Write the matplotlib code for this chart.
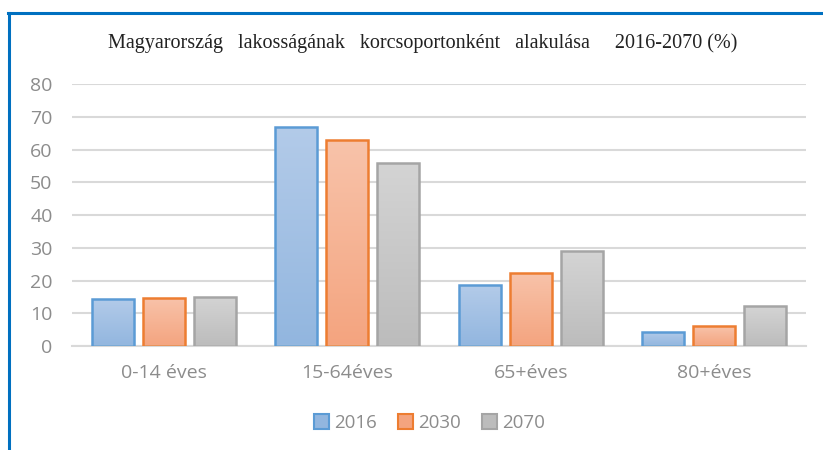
import numpy as np
import matplotlib.pyplot as plt
from matplotlib.patches import Patch
from matplotlib.lines import Line2D

categories = ["0-14 éves", "15-64éves", "65+éves", "80+éves"]
years = ["2016", "2030", "2070"]
v2016 = [14.4, 66.9, 18.6, 4.3]
v2030 = [14.7, 62.9, 22.3, 6.1]
v2070 = [15.1, 55.9, 29.0, 12.2]
yticks = [0, 10, 20, 30, 40, 50, 60, 70, 80]
title = "Magyarország   lakosságának   korcsoportonként   alakulása     2016-2070 (%)"

series = [v2016, v2030, v2070]
# (top colour, bottom colour, edge colour)
styles = [
    ("#b3cbe9", "#92b6df", "#5b9bd5"),
    ("#f8c3aa", "#f4a47f", "#ed7d31"),
    ("#d4d4d4", "#bcbcbc", "#a5a5a5"),
]
label_color = "#8c8c8c"
grid_color = "#d9d9d9"


def gradient_bar(ax, x, h, w, top, bottom, edge):
    bar = ax.bar(x, h, w, color="none", edgecolor=edge, linewidth=1.8, zorder=3)[0]
    grad = np.linspace(0, 1, 256).reshape(-1, 1)
    c_top = np.array(plt.matplotlib.colors.to_rgb(top))
    c_bot = np.array(plt.matplotlib.colors.to_rgb(bottom))
    img = c_bot + (c_top - c_bot) * grad[..., None]
    im = ax.imshow(img, extent=[x - w / 2, x + w / 2, 0, h], origin="lower",
                   aspect="auto", zorder=2)
    im.set_clip_path(bar)


fig = plt.figure(figsize=(8.23, 4.5), dpi=100)
# blue frame (top and left)
fig.add_artist(Line2D([0.010, 1.0], [0.971, 0.971], color="#0070c0", lw=2.2))
fig.add_artist(Line2D([0.011, 0.011], [0.0, 0.972], color="#0070c0", lw=2.2))

ax = fig.add_axes([0.0875, 0.231, 0.892, 0.582])
x = np.arange(len(categories))
w = 0.229
step = 0.278
for i, vals in enumerate(series):
    top, bottom, edge = styles[i]
    for j, v in enumerate(vals):
        gradient_bar(ax, x[j] + (i - 1) * step, v, w, top, bottom, edge)

ax.set_xlim(-0.5, len(categories) - 0.5)
ax.set_ylim(0, 80)
ax.set_yticks(yticks)
ax.set_xticks(x)
ax.set_xticklabels(categories)
ax.yaxis.grid(True, color=grid_color, lw=1.5, zorder=0)
ax.set_axisbelow(True)
for s in ["top", "right", "left"]:
    ax.spines[s].set_visible(False)
ax.spines["bottom"].set_color(grid_color)
ax.spines["bottom"].set_linewidth(1.5)
ax.tick_params(length=0, labelsize=14, labelcolor=label_color,
               labelfontfamily="Open Sans")
ax.tick_params(axis="x", pad=13)
ax.tick_params(axis="y", pad=14)

fig.text(0.513, 0.905, title, ha="center", va="center", fontsize=14.5,
         family="Liberation Serif", color="#222222")

handles = [Patch(facecolor=s[1], edgecolor=s[2], linewidth=1.5) for s in styles]
leg = fig.legend(handles, years, loc="center", bbox_to_anchor=(0.522, 0.060), ncol=3,
                 frameon=False, handlelength=0.8, handleheight=0.8, handletextpad=0.3,
                 columnspacing=1.1, prop={"family": "Open Sans", "size": 13.5})
for t in leg.get_texts():
    t.set_color(label_color)

fig.savefig("out.png", dpi=100, facecolor="white")
